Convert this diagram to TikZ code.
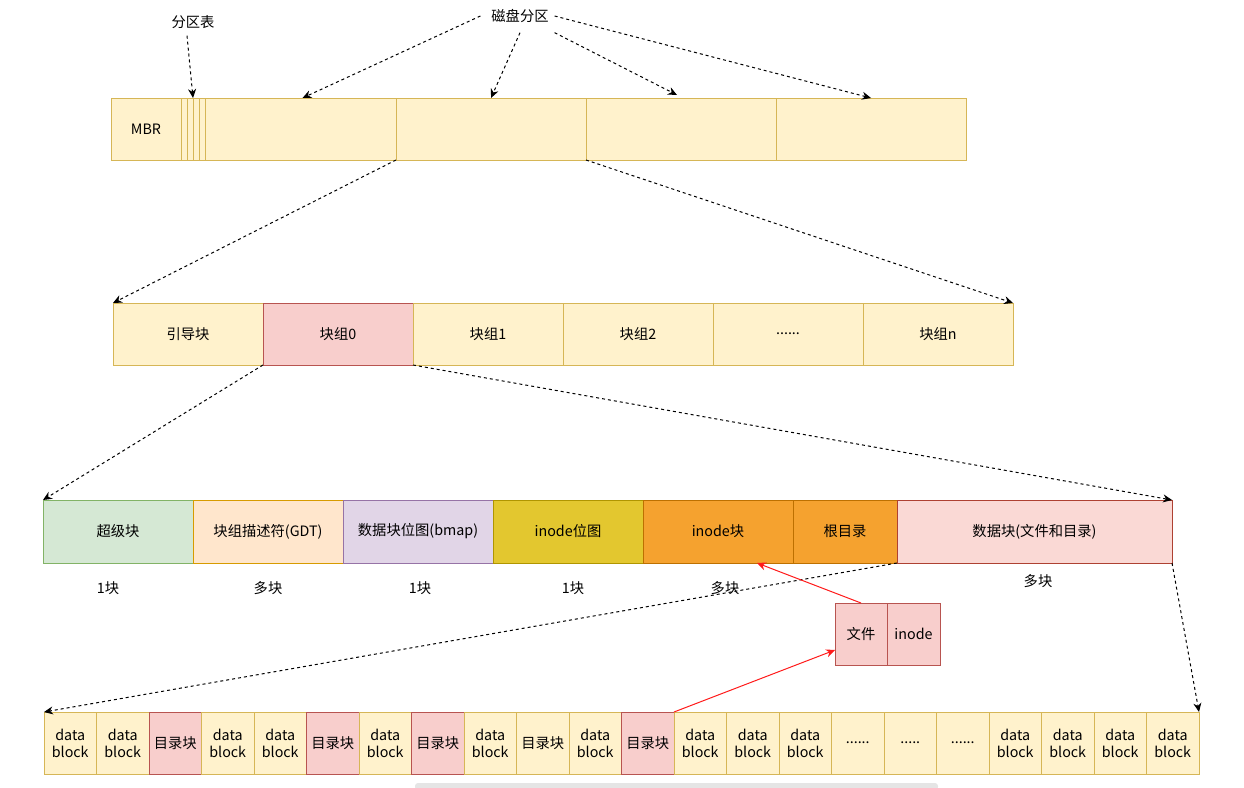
\documentclass[tikz,border=0pt]{standalone}
\usepackage{fontspec}
\setmainfont{Noto Sans CJK SC}
\usetikzlibrary{arrows.meta}
\definecolor{yelF}{HTML}{FFF2CC}\definecolor{yelD}{HTML}{D6B656}
\definecolor{pinkF}{HTML}{F8CECC}\definecolor{pinkD}{HTML}{B85450}
\definecolor{grnF}{HTML}{D5E8D4}\definecolor{grnD}{HTML}{82B366}
\definecolor{gdtF}{HTML}{FFE6CC}\definecolor{gdtD}{HTML}{D79B00}
\definecolor{purF}{HTML}{E1D5E7}\definecolor{purD}{HTML}{9673A6}
\definecolor{goldF}{HTML}{E3C72F}\definecolor{goldD}{HTML}{B09500}
\definecolor{orgF}{HTML}{F5A22F}\definecolor{orgD}{HTML}{BD7000}
\definecolor{dpF}{HTML}{FAD9D5}\definecolor{dpD}{HTML}{AE4132}
\definecolor{redA}{HTML}{FF1A1A}
\newcommand{\dsix}{......}
\newcommand{\dfive}{.....}
\newcommand{\dblk}{data\\block}
\begin{document}
\begin{tikzpicture}[x=1pt,y=-1pt,
  every node/.style={font=\fontsize{14.3}{16}\selectfont, inner sep=0pt, outer sep=0pt},
  cell/.style={draw, line width=1pt, anchor=north west, align=center},
  yel/.style={cell, fill=yelF, draw=yelD},
  pnk/.style={cell, fill=pinkF, draw=pinkD},
  grn/.style={cell, fill=grnF, draw=grnD},
  gdt/.style={cell, fill=gdtF, draw=gdtD},
  pur/.style={cell, fill=purF, draw=purD},
  gold/.style={cell, fill=goldF, draw=goldD},
  org/.style={cell, fill=orgF, draw=orgD},
  dpk/.style={cell, fill=dpF, draw=dpD},
  dsh/.style={dashed, dash pattern=on 3pt off 3pt, line width=1pt, -{Stealth[length=9pt,width=8pt]}},
  redarr/.style={draw=redA, line width=1pt, -{Stealth[length=9pt,width=8pt]}},
  lbl/.style={font=\fontsize{14.3}{16}\selectfont}
]
\useasboundingbox (0,0) rectangle (1244,787);
% faint bar at the bottom
\fill[black!10, rounded corners=3pt] (415,783) rectangle (938,790);

% ---- top row: disk ----
\node[yel, minimum width=70, minimum height=62] (mbr) at (111,98) {MBR};
\node[yel, minimum width=6, minimum height=62] (pt1) at (181,98) {};
\node[yel, minimum width=6, minimum height=62] (pt2) at (187,98) {};
\node[yel, minimum width=6, minimum height=62] (pt3) at (193,98) {};
\node[yel, minimum width=6, minimum height=62] (pt4) at (199,98) {};
\node[yel, minimum width=191, minimum height=62] (p1) at (205,98) {};
\node[yel, minimum width=190, minimum height=62] (p2) at (396,98) {};
\node[yel, minimum width=190, minimum height=62] (p3) at (586,98) {};
\node[yel, minimum width=190, minimum height=62] (p4) at (776,98) {};

\node[lbl] (ptl) at (193,22) {分区表};
\node[lbl] (disk) at (520,16) {磁盘分区};
\draw[dsh] ([xshift=-6pt,yshift=-7pt]ptl.south) -- (pt2.north east);
\draw[dsh] ([xshift=-11pt]disk.west) -- ([xshift=2pt]p1.north);
\draw[dsh] ([yshift=-10pt]disk.south) -- (p2.north);
\draw[dsh] ([xshift=6pt,yshift=-10pt]disk.south east) -- ([xshift=-4pt,yshift=3pt]p3.north);
\draw[dsh] ([xshift=6pt]disk.east) -- (p4.north);

% ---- second row: partition ----
\node[yel, minimum width=150, minimum height=62] (boot) at (113,303) {引导块};
\node[pnk, minimum width=150, minimum height=62] (g0) at (263,303) {块组0};
\node[yel, minimum width=150, minimum height=62] (g1) at (413,303) {块组1};
\node[yel, minimum width=150, minimum height=62] (g2) at (563,303) {块组2};
\node[yel, minimum width=150, minimum height=62] (gd) at (713,303) {\dsix};
\node[yel, minimum width=150, minimum height=62] (gn) at (863,303) {块组n};
\draw[dsh] (p2.south west) -- (boot.north west);
\draw[dsh] (p2.south east) -- (gn.north east);

% ---- third row: block group ----
\node[grn, minimum width=150, minimum height=63] (sb) at (43,500) {超级块};
\node[gdt, minimum width=150, minimum height=63] (gdt) at (193,500) {块组描述符(GDT)};
\node[pur, minimum width=150, minimum height=63] (bm) at (343,500) {数据块位图(bmap)};
\node[gold, minimum width=150, minimum height=63] (im) at (493,500) {inode位图};
\node[org, minimum width=150, minimum height=63] (ib) at (643,500) {inode块};
\node[org, minimum width=104, minimum height=63] (root) at (793,500) {根目录};
\node[dpk, minimum width=275, minimum height=63] (data) at (897,500) {数据块(文件和目录)};
\draw[dsh] (g0.south west) -- (sb.north west);
\draw[dsh] (g0.south east) -- (data.north east);

\node[lbl] (n1) at (108,588) {1块};
\node[lbl] (n2) at (268,588) {多块};
\node[lbl] (n3) at (420,588) {1块};
\node[lbl] (n4) at (573,588) {1块};
\node[lbl] (n5) at (725,588) {多块};
\node[lbl] (n6) at (1038,581) {多块};

% ---- file / inode ----
\node[pnk, minimum width=52, minimum height=62] (file) at (835,603) {文件};
\node[pnk, minimum width=53, minimum height=62] (fino) at (887,603) {inode};

% ---- bottom row: data blocks ----
\foreach \i/\t/\s in {1/\dblk/yel,2/\dblk/yel,3/目录块/pnk,4/\dblk/yel,
  5/\dblk/yel,6/目录块/pnk,7/\dblk/yel,8/目录块/pnk,9/\dblk/yel,
  10/目录块/yel,11/\dblk/yel,12/目录块/pnk,13/\dblk/yel,14/\dblk/yel,
  15/\dblk/yel,16/\dsix/yel,17/\dfive/yel,18/\dsix/yel,19/\dblk/yel,
  20/\dblk/yel,21/\dblk/yel,22/\dblk/yel}{
  \node[\s, minimum width=52.5, minimum height=62, font=\fontsize{14.3}{17}\selectfont] (c\i) at ({44+(\i-1)*52.5},712) {\t};
}
\draw[dsh] (data.south west) -- (c1.north west);
\draw[dsh] (data.south east) -- (c22.north east);

\draw[redarr] (file.north) -- ([xshift=39pt]ib.south);
\draw[redarr] (c12.north east) -- ([yshift=-16pt]file.west);
\end{tikzpicture}
\end{document}
